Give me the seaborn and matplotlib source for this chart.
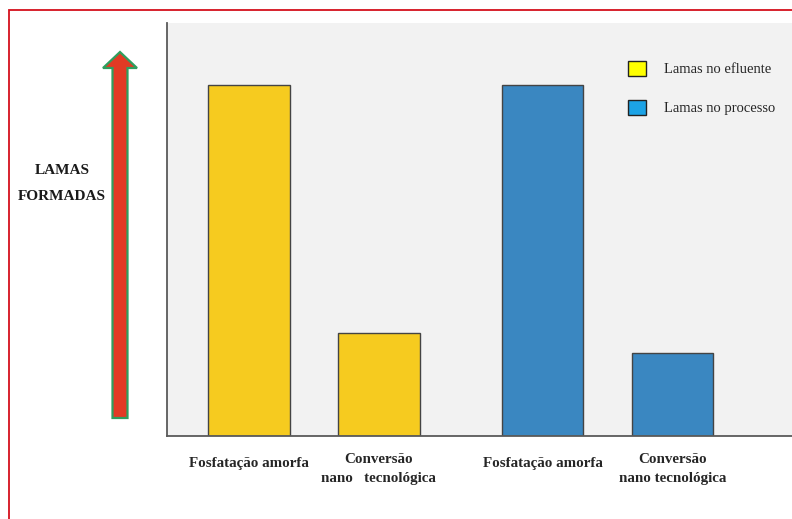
import matplotlib
matplotlib.use("Agg")
import matplotlib.pyplot as plt
from matplotlib.patches import Patch, Rectangle, FancyArrow
from matplotlib.transforms import ScaledTranslation
import seaborn as sns
import pandas as pd

# --- data -------------------------------------------------------------
processos = ["Fosfatação amorfa", "Conversão\nnano   tecnológica",
             "Fosfatação amorfa", "Conversão\nnano tecnológica"]
grupos = ["Lamas no efluente", "Lamas no efluente",
          "Lamas no processo", "Lamas no processo"]
lamas = [85, 25, 85, 20]

# layout: two bars per group, a wider gap between groups
passo_barra = 1.0
passo_grupo = 1.26
ordem_grupos = sorted(set(grupos), key=grupos.index)
posicoes = []
for i, g in enumerate(grupos):
    gi = ordem_grupos.index(g)
    wi = [j for j, gg in enumerate(grupos) if gg == g].index(i)
    posicoes.append(gi * (passo_barra + passo_grupo) + wi * passo_barra)

df = pd.DataFrame({"pos": posicoes, "lamas": lamas, "grupo": grupos})

cores_barras = {"Lamas no efluente": "#f6cb1f", "Lamas no processo": "#3a87c1"}
cores_legenda = {"Lamas no efluente": "#ffff00", "Lamas no processo": "#1ca3e6"}

sns.set_style("white")
plt.rcParams["font.family"] = ["Liberation Serif", "DejaVu Serif"]

W, H = 792, 519
fig = plt.figure(figsize=(W / 100, H / 100), dpi=100)
fig.patch.set_facecolor("white")
ax = fig.add_axes([167 / W, 1 - 436 / H, 1 - 167 / W, (436 - 23) / H])
ax.set_facecolor("#f2f2f2")

sns.barplot(data=df, x="pos", y="lamas", hue="grupo", palette=cores_barras,
            native_scale=True, dodge=False, width=0.63, legend=False,
            saturation=1, edgecolor="#444444", linewidth=1.0, ax=ax)

ax.set_xlim(-0.63, 4.18)
ax.set_ylim(0, 100)
ax.set_yticks([])
ax.set_xlabel("")
ax.set_ylabel("")
ax.set_xticks(posicoes)
ax.set_xticklabels(processos, fontsize=10.8, fontweight="bold",
                   multialignment="center", linespacing=1.6)
ax.tick_params(axis="x", length=0, pad=12)
for lbl in ax.get_xticklabels():
    if "\n" not in lbl.get_text():
        lbl.set_transform(lbl.get_transform()
                          + ScaledTranslation(0, -4 / 100, fig.dpi_scale_trans))

for s in ["top", "right"]:
    ax.spines[s].set_visible(False)
for s in ["left", "bottom"]:
    ax.spines[s].set_color("#5a5a5a")
    ax.spines[s].set_linewidth(1.3)

# legend
handles = [Patch(facecolor=cores_legenda[g], edgecolor="#222222", linewidth=1.0, label=g)
           for g in ordem_grupos]
ax.legend(handles=handles, loc="upper left", bbox_to_anchor=(628 / W, 1 - 61 / H),
          bbox_transform=fig.transFigure, frameon=False, fontsize=10.5,
          handlelength=1.25, handleheight=1.2, handletextpad=1.2,
          labelspacing=1.6, borderpad=0, borderaxespad=0)

# vertical arrow and its caption
seta = FancyArrow(120 / W, 1 - 418 / H, 0, (418 - 52) / H,
                  width=15 / W, head_width=34 / W, head_length=16 / H,
                  length_includes_head=True, transform=fig.transFigure,
                  facecolor="#e23a24", edgecolor="#2f9e5e", linewidth=1.6)
fig.add_artist(seta)
fig.text(62 / W, 1 - 170 / H, "LAMAS", ha="center", va="center",
         fontsize=11, fontweight="bold", color="#1a1a1a")
fig.text(62 / W, 1 - 197 / H, "FORMADAS", ha="center", va="center",
         fontsize=11, fontweight="bold", color="#1a1a1a")

# red frame around the figure
fig.add_artist(Rectangle((9 / W, -0.1), 1.2, 1 - 10 / H + 0.1,
                         transform=fig.transFigure, fill=False,
                         edgecolor="#d4101c", linewidth=1.3))

fig.savefig("out.png", dpi=100, facecolor="white")
